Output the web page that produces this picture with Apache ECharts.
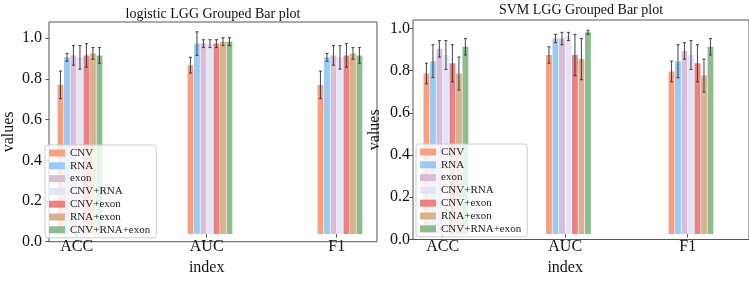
<!DOCTYPE html>
<html>
<head>
<meta charset="utf-8">
<script src="https://cdn.jsdelivr.net/npm/echarts@6/dist/echarts.min.js"></script>
<style>
  html, body { margin: 0; padding: 0; background: #fff; }
  #chart { width: 749px; height: 281px; }
</style>
</head>
<body>
<div id="chart"></div>
<script>
// x categories and methods
const categories = ['ACC', 'AUC', 'F1']
const methods = ['CNV', 'RNA', 'exon', 'CNV+RNA', 'CNV+exon', 'RNA+exon', 'CNV+RNA+exon']
const yTicks = [0, 0.2, 0.4, 0.6, 0.8, 1.0]

// logistic: one row per method, values for ACC / AUC / F1
const logisticMean = [
  [0.76, 0.86, 0.76],
  [0.90, 0.97, 0.90],
  [0.91, 0.97, 0.91],
  [0.90, 0.97, 0.90],
  [0.91, 0.97, 0.91],
  [0.92, 0.98, 0.92],
  [0.91, 0.98, 0.91]
]
const logisticErr = [
  [0.07, 0.04, 0.07],
  [0.02, 0.06, 0.02],
  [0.05, 0.02, 0.05],
  [0.06, 0.02, 0.06],
  [0.06, 0.02, 0.06],
  [0.03, 0.02, 0.03],
  [0.04, 0.02, 0.04]
]

// SVM
const svmMean = [
  [0.78, 0.87, 0.79],
  [0.84, 0.95, 0.84],
  [0.90, 0.95, 0.89],
  [0.87, 0.96, 0.87],
  [0.83, 0.87, 0.83],
  [0.78, 0.85, 0.77],
  [0.91, 0.98, 0.91]
]
const svmErr = [
  [0.05, 0.04, 0.05],
  [0.08, 0.02, 0.08],
  [0.04, 0.03, 0.04],
  [0.07, 0.02, 0.07],
  [0.09, 0.10, 0.09],
  [0.08, 0.10, 0.08],
  [0.04, 0.01, 0.04]
]

const colors = ['#F9A080', '#98CBF8', '#D8BCD8', '#E4E4F8', '#EE8080', '#D4B48C', '#8FBC8F']
const font = 'Liberation Serif'
const barW = 5.8
const gapRatio = 0.12
const pitch = barW * (1 + gapRatio)

function frameAxes (gridIndex, max, labelMargin) {
  return {
    x: { type: 'value', gridIndex: gridIndex, min: 0, max: 1, show: false },
    y: {
      type: 'value',
      gridIndex: gridIndex,
      min: 0,
      max: max,
      name: 'values',
      nameLocation: 'middle',
      nameGap: labelMargin === 7 ? 32 : 30,
      nameTextStyle: { fontFamily: font, fontSize: 16, color: '#111' },
      axisLine: { show: false },
      splitLine: { show: false },
      axisTick: { show: true, length: 3.5, customValues: yTicks, lineStyle: { color: '#555' } },
      axisLabel: {
        customValues: yTicks,
        margin: labelMargin,
        fontFamily: font,
        fontSize: 16,
        color: '#111',
        formatter: v => v.toFixed(1)
      }
    }
  }
}

function dataAxes (gridIndex, max) {
  return {
    x: {
      type: 'category',
      gridIndex: gridIndex,
      data: categories,
      name: 'index',
      nameLocation: 'middle',
      nameGap: 21,
      nameTextStyle: { fontFamily: font, fontSize: 16, color: '#111' },
      axisLine: { show: false },
      axisTick: { show: true, alignWithLabel: true, length: 3.5, lineStyle: { color: '#555' } },
      axisLabel: { margin: 5, fontFamily: font, fontSize: 16, color: '#111' }
    },
    y: { type: 'value', gridIndex: gridIndex, min: 0, max: max, show: false }
  }
}

function buildSeries (mean, err, axisIndex) {
  const list = []
  // empty slot so the group sits right of the tick, as in the original
  list.push({
    type: 'bar',
    xAxisIndex: axisIndex,
    yAxisIndex: axisIndex,
    barWidth: barW,
    barGap: (gapRatio * 100) + '%',
    data: categories.map(() => '-')
  })
  methods.forEach((m, i) => {
    list.push({
      name: m,
      type: 'bar',
      xAxisIndex: axisIndex,
      yAxisIndex: axisIndex,
      barWidth: barW,
      barGap: (gapRatio * 100) + '%',
      itemStyle: { color: colors[i] },
      data: mean[i]
    })
  })
  methods.forEach((m, i) => {
    list.push({
      type: 'custom',
      xAxisIndex: axisIndex,
      yAxisIndex: axisIndex,
      z: 5,
      encode: { x: 0, y: 1 },
      data: categories.map((c, j) => [j, mean[i][j], err[i][j]]),
      renderItem (params, api) {
        const c = api.value(0)
        const v = api.value(1)
        const e = api.value(2)
        const top = api.coord([c, v + e])
        const bot = api.coord([c, v - e])
        const x = top[0] + (i - 2.5) * pitch
        const st = { stroke: '#333', lineWidth: 1.1, opacity: 0.85 }
        return {
          type: 'group',
          children: [
            { type: 'line', shape: { x1: x, y1: top[1], x2: x, y2: bot[1] }, style: st },
            { type: 'line', shape: { x1: x - 1.5, y1: top[1], x2: x + 1.5, y2: top[1] }, style: st },
            { type: 'line', shape: { x1: x - 1.5, y1: bot[1], x2: x + 1.5, y2: bot[1] }, style: st }
          ]
        }
      }
    })
  })
  return list
}

const leftFrame = frameAxes(0, 1.08, 7)
const leftData = dataAxes(1, 1.08)
const rightFrame = frameAxes(2, 1.04, 3)
const rightData = dataAxes(3, 1.04)

const legendBase = {
  data: methods,
  orient: 'vertical',
  icon: 'rect',
  itemWidth: 16,
  itemHeight: 7,
  itemGap: 0.8,
  padding: [2, 6, 2, 4],
  backgroundColor: 'rgba(255,255,255,0.8)',
  borderColor: '#ccc',
  borderWidth: 1,
  borderRadius: 3,
  selectedMode: false,
  textStyle: { fontFamily: font, fontSize: 11, color: '#222', lineHeight: 12 }
}

const option = {
  animation: false,
  graphic: [
    { type: 'text', x: 213, y: 14.5, style: { text: 'logistic LGG Grouped Bar plot', font: '14px "Liberation Serif"', fill: '#111', textAlign: 'center', textVerticalAlign: 'middle' } },
    { type: 'text', x: 581, y: 10.5, style: { text: 'SVM LGG Grouped Bar plot', font: '14px "Liberation Serif"', fill: '#111', textAlign: 'center', textVerticalAlign: 'middle' } }
  ],
  legend: [
    Object.assign({ left: 45, top: 145 }, legendBase),
    Object.assign({ left: 416, top: 144 }, legendBase)
  ],
  grid: [
    { left: 41, top: 22, right: 372, bottom: 39.3, show: true, borderColor: '#555', borderWidth: 1 },
    { left: 11.7, top: 22, width: 390, bottom: 39.3 },
    { left: 413, top: 20, right: -1, bottom: 41.5, show: true, borderColor: '#555', borderWidth: 1 },
    { left: 381.4, top: 20, width: 392, bottom: 41.5 }
  ],
  xAxis: [leftFrame.x, leftData.x, rightFrame.x, rightData.x],
  yAxis: [leftFrame.y, leftData.y, rightFrame.y, rightData.y],
  series: buildSeries(logisticMean, logisticErr, 1).concat(buildSeries(svmMean, svmErr, 3))
}

const chart = echarts.init(document.getElementById('chart'))
chart.setOption(option)
</script>
</body>
</html>
